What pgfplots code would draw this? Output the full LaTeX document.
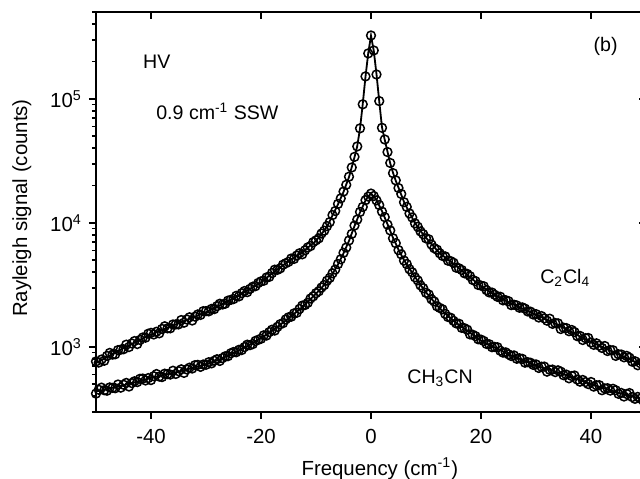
\documentclass[border=0pt]{standalone}
\usepackage{fontspec}
\setmainfont{Liberation Sans}
\usepackage{pgfplots}
\pgfplotsset{compat=1.18}
\usepackage{pgfplotstable}

\pgfplotstableread{
x y
-50 763
-49.5 747
-49 791
-48.5 773
-48 845
-47.5 894
-47 866
-46.5 872
-46 942
-45.5 950
-45 957
-44.5 1042
-44 997
-43.5 1066
-43 1114
-42.5 1054
-42 1138
-41.5 1191
-41 1186
-40.5 1277
-40 1297
-39.5 1259
-39 1325
-38.5 1286
-38 1395
-37.5 1466
-37 1411
-36.5 1411
-36 1516
-35.5 1517
-35 1518
-34.5 1645
-34 1567
-33.5 1665
-33 1733
-32.5 1632
-32 1754
-31.5 1827
-31 1810
-30.5 1941
-30 1943
-29.5 1935
-29 2025
-28.5 2016
-28 2131
-27.5 2228
-27 2197
-26.5 2231
-26 2359
-25.5 2395
-25 2430
-24.5 2581
-24 2554
-23.5 2712
-23 2822
-22.5 2765
-22 2938
-21.5 3058
-21 3089
-20.5 3278
-20 3377
-19.5 3416
-19 3632
-18.5 3672
-18 3944
-17.5 4196
-17 4186
-16.5 4300
-16 4601
-15.5 4727
-15 4849
-14.5 5161
-14 5122
-13.5 5454
-13 5690
-12.5 5581
-12 6013
-11.5 6347
-11 6501
-10.5 6999
-10 7233
-9.5 7510
-9 8210
-8.5 8650
-8 9420
-7.5 10150
-7 11560
-6.5 12480
-6 14230
-5.5 15760
-5 17900
-4.5 20300
-4 23600
-3.5 28000
-3 34100
-2.5 41400
-2 57900
-1.5 90500
-1 152000
-0.5 233000
0 325000
0.5 246000
1 157500
1.5 96100
2 58500
2.5 47100
3 37300
3.5 30450
4 25200
4.5 22050
5 19120
5.5 17120
6 14680
6.5 13450
7 11920
7.5 11060
8 9920
8.5 9310
9 8540
9.5 8110
10 7510
10.5 7376
11 6692
11.5 6253
12 6084
12.5 5689
13 5416
13.5 5366
14 4958
14.5 4914
15 4771
15.5 4352
16 4305
16.5 4171
17 3922
17.5 3878
18 3721
18.5 3465
19 3392
19.5 3157
20 3121
20.5 3082
21 2868
21.5 2749
22 2743
22.5 2630
23 2532
23.5 2539
24 2373
24.5 2379
25 2337
25.5 2172
26 2188
26.5 2159
27 2068
27.5 2083
28 2035
28.5 1931
29 1924
29.5 1825
30 1838
30.5 1726
31 1773
31.5 1698
32 1627
32.5 1687
33 1534
33.5 1557
34 1548
34.5 1393
35 1429
35.5 1418
36 1338
36.5 1369
37 1318
37.5 1220
38 1226
38.5 1136
39 1176
39.5 1180
40 1085
40.5 1039
41 1068
41.5 1023
42 980
42.5 1016
43 926
43.5 942
44 939
44.5 846
45 871
45.5 868
46 824
46.5 846
47 818
47.5 760
48 766
48.5 711
49 738
49.5 743
50 685
}\ccldata

\pgfplotstableread{
x y
-50 741
-47.5 851
-45 977
-42.5 1109
-40 1259
-37.5 1396
-35 1549
-32.5 1718
-30 1905
-27.5 2163
-25 2455
-22.5 2851
-20 3311
-17.5 4074
-15 4898
-12.5 5800
-10 7161
-9 8128
-8 9333
-7 11482
-6 14125
-5 17783
-4.5 20417
-4 23442
-3.5 28184
-3 33884
-2.5 41687
-2 57544
-1.5 91201
-1 151356
-0.5 234423
0 323594
0.5 245471
1 158489
1.5 95499
2 58884
2.5 46774
3 37584
3.5 30200
4 25410
4.5 21878
5 19275
6 14791
7 12023
8 10000
9 8610
10 7586
12.5 5689
15 4677
17.5 3802
20 3090
22.5 2630
25 2291
27.5 2042
30 1820
32.5 1622
35 1429
37.5 1245
40 1096
42.5 977
45 871
47.5 776
50 692
}\cclfit

\pgfplotstableread{
x y
-50 420
-49.5 451
-49 469
-48.5 447
-48 443
-47.5 471
-47 467
-46.5 464
-46 497
-45.5 469
-45 495
-44.5 512
-44 479
-43.5 511
-43 528
-42.5 520
-42 553
-41.5 555
-41 536
-40.5 560
-40 540
-39.5 580
-39 604
-38.5 576
-38 571
-37.5 608
-37 603
-36.5 598
-36 642
-35.5 605
-35 637
-34.5 659
-34 617
-33.5 658
-33 680
-32.5 669
-32 712
-31.5 716
-31 690
-30.5 721
-30 717
-29.5 752
-29 736
-28.5 773
-28 795
-27.5 770
-27 812
-26.5 840
-26 842
-25.5 888
-25 909
-24.5 905
-24 947
-23.5 943
-23 997
-22.5 1042
-22 1033
-21.5 1053
-21 1118
-20.5 1140
-20 1163
-19.5 1240
-19 1234
-18.5 1316
-18 1376
-17.5 1354
-17 1452
-16.5 1525
-16 1554
-15.5 1666
-15 1732
-14.5 1752
-14 1863
-13.5 1885
-13 2024
-12.5 2152
-12 2176
-11.5 2266
-11 2456
-10.5 2559
-10 2710
-9.5 2810
-9 3010
-8.5 3150
-8 3420
-7.5 3600
-7 3925
-6.5 4205
-6 4660
-5.5 5090
-5 5740
-4.5 6330
-4 7220
-3.5 8150
-3 9520
-2.5 10640
-2 12250
-1.5 13460
-1 15250
-0.5 16300
0 17250
0.5 16480
1 15200
1.5 13920
2 12340
2.5 11130
3 9690
3.5 8690
4 7520
4.5 6860
5 6040
5.5 5580
6 4970
6.5 4660
7 4230
7.5 3995
8 3640
8.5 3440
9 3135
9.5 2975
10 2730
10.5 2646
11 2419
11.5 2324
12 2125
12.5 2062
13 2009
13.5 1843
14 1743
14.5 1716
15 1622
15.5 1547
16 1537
16.5 1423
17 1414
17.5 1376
18 1261
18.5 1253
19 1220
19.5 1152
20 1144
20.5 1116
21 1056
21.5 1050
22 994
22.5 999
23 993
23.5 931
24 899
24.5 903
25 871
25.5 844
26 853
26.5 802
27 809
27.5 801
28 746
28.5 753
29 745
29.5 716
30 722
30.5 676
31 692
31.5 694
32 631
32.5 653
33 656
33.5 626
34 647
34.5 631
35 591
35.5 598
36 558
36.5 582
37 588
37.5 545
38 524
38.5 541
39 520
39.5 501
40 521
40.5 478
41 490
41.5 491
42 447
42.5 462
43 464
43.5 444
44 459
44.5 447
45 418
45.5 425
46 398
46.5 417
47 424
47.5 394
48 381
48.5 395
49 382
49.5 369
50 387
}\chdata

\pgfplotstableread{
x y
-50 437
-47.5 462
-45 490
-42.5 525
-40 562
-37.5 596
-35 631
-32.5 676
-30 724
-27.5 794
-25 891
-22.5 1012
-20 1175
-17.5 1396
-15 1698
-12.5 2089
-10 2692
-9 2985
-8 3388
-7 3890
-6 4624
-5 5689
-4 7161
-3 9441
-2 12162
-1 15136
-0.5 16406
0 17179
0.5 16406
1 15311
2 12445
3 9772
4 7586
5 6095
6 5012
7 4266
8 3673
9 3162
10 2754
12.5 2042
15 1622
17.5 1349
20 1122
22.5 989
25 871
27.5 785
30 708
32.5 653
35 603
37.5 550
40 501
42.5 462
45 427
47.5 398
50 372
}\chfit

\begin{document}
\fontsize{10.2}{12}\selectfont
\begin{tikzpicture}
\begin{axis}[name=main,
  scale only axis, width=275pt, height=199.7pt,
  xmin=-50, xmax=50, ymin=300, ymax=500000, ymode=log,
  xtick={-40,-20,0,20,40},
  ytick={1000,10000,100000},
  minor ytick={300,400,500,600,700,800,900,2000,3000,4000,5000,6000,7000,8000,9000,20000,30000,40000,50000,60000,70000,80000,90000,200000,300000,400000,500000},
  major tick length=3.5pt, minor tick length=2pt,
  every tick/.append style={black, line width=0.8pt},
  axis line style={line width=1pt, black},
  axis x line*=bottom, axis y line*=left, tick align=outside,
  xticklabels={-40,-20,0,20,40},
  yticklabels={10\textsuperscript{3},10\textsuperscript{4},10\textsuperscript{5}},
  xticklabel style={yshift=-1.5pt},
  xlabel={Frequency (cm\textsuperscript{-1})},
  ylabel={Rayleigh signal (counts)},
  xlabel style={at={(axis description cs:0.516,-0.1585)}, anchor=base},
  ylabel style={at={(axis description cs:-0.125,0.51)}, anchor=base},
]
\addplot[black, line width=0.9pt, no marks] table[x=x,y=y] {\cclfit};
\addplot[black, line width=0.9pt, no marks] table[x=x,y=y] {\chfit};
\addplot[black, only marks, mark=o, mark size=2.2pt, mark options={line width=0.75pt}] table[x=x,y=y] {\ccldata};
\addplot[black, only marks, mark=o, mark size=2.2pt, mark options={line width=0.75pt}] table[x=x,y=y] {\chdata};
\begin{scope}[font=\fontsize{9.8}{11.5}\selectfont]
\node[anchor=base west, inner sep=0] at (axis cs:-41.5,176900) {HV};
\node[anchor=base west, inner sep=0] at (axis cs:-39.1,68500) {0.9 cm\textsuperscript{-1} SSW};
\node[anchor=base west, inner sep=0] at (axis cs:40.4,242700) {(b)};
\node[anchor=base west, inner sep=0] at (axis cs:30.7,3266) {C\textsubscript{2}Cl\textsubscript{4}};
\node[anchor=base west, inner sep=0] at (axis cs:6.55,509) {CH\textsubscript{3}CN};
\end{scope}
\end{axis}
\begin{axis}[
  scale only axis, width=275pt, height=199.7pt,
  xmin=-50, xmax=50, ymin=300, ymax=500000, ymode=log,
  xtick={-40,-20,0,20,40},
  ytick={1000,10000,100000},
  minor ytick={300,400,500,600,700,800,900,2000,3000,4000,5000,6000,7000,8000,9000,20000,30000,40000,50000,60000,70000,80000,90000,200000,300000,400000,500000},
  major tick length=3.5pt, minor tick length=2pt,
  every tick/.append style={black, line width=0.8pt},
  axis line style={line width=1pt, black},
  axis x line*=top, axis y line*=right, tick align=inside,
  xticklabels={}, yticklabels={},
]
\end{axis}
\pgfresetboundingbox
\path[use as bounding box] ([shift={(-48pt,-33.15pt)}]main.south west) rectangle ([shift={(272pt,205.85pt)}]main.south west);
\end{tikzpicture}
\end{document}
